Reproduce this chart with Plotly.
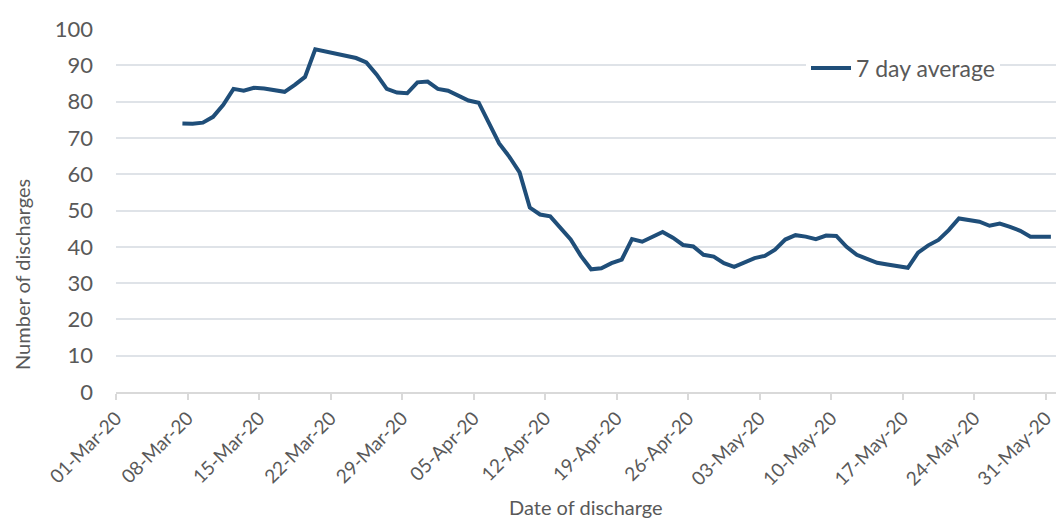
import pandas as pd
import plotly.graph_objects as go

# 7-day rolling average of discharges, one value per day from 07-Mar-20 to 31-May-20
start_date = "2020-03-07"
avg_7day = [
    74.0, 73.9, 74.2, 75.8, 79.1, 83.5, 83.0, 83.8, 83.6, 83.2,   # 07-16 Mar
    82.7, 84.6, 86.8, 94.4, 93.8, 93.0, 92.6, 92.0, 90.8, 87.5,   # 17-26 Mar
    83.5, 82.5, 82.3, 85.3, 85.5, 83.5, 83.0, 81.5, 80.3, 79.7,   # 27 Mar-05 Apr
    74.0, 68.5, 64.8, 60.5, 50.8, 48.9, 48.4, 45.0, 42.0, 37.5,   # 06-15 Apr
    33.8, 34.1, 35.5, 36.5, 42.1, 41.4, 42.8, 44.1, 42.5, 40.5,   # 16-25 Apr
    40.1, 37.8, 37.3, 35.5, 34.5, 35.6, 36.9, 37.5, 39.2, 42.0,   # 26 Apr-05 May
    43.2, 42.8, 42.1, 43.1, 43.0, 40.0, 37.8, 36.7, 35.6, 35.1,   # 06-15 May
    34.7, 34.2, 38.4, 40.4, 41.9, 44.6, 47.8, 47.3, 46.9, 45.8,   # 16-25 May
    46.4, 45.5, 44.4, 42.8, 42.8, 42.8,                           # 26-31 May
]
series_name = "7 day average"
x_title = "Date of discharge"
y_title = "Number of discharges"

# each daily value sits in the middle of its day slot on the date axis
dates = pd.date_range(start_date, periods=len(avg_7day), freq="D") + pd.Timedelta(hours=12)

LINE = "#1f4e79"
TEXT = "#595959"
GRID = "#dfe3e8"
FONT = "Lato"

fig = go.Figure()
fig.add_trace(go.Scatter(
    x=dates, y=avg_7day, mode="lines", name=series_name,
    line=dict(color=LINE, width=4),
))

fig.update_layout(
    width=1056, height=520,
    margin=dict(l=116, r=0, t=29, b=128),
    paper_bgcolor="white", plot_bgcolor="white",
    font=dict(family=FONT, color=TEXT, size=20),
    showlegend=True,
    legend=dict(
        x=(806 - 116) / 940, y=(392 - 68) / 363, xanchor="left", yanchor="middle",
        bgcolor="white", font=dict(size=23, color=TEXT, family=FONT),
        itemwidth=40,
    ),
    xaxis=dict(
        type="date",
        range=["2020-03-01", "2020-06-01"],
        tick0="2020-03-01", dtick=7 * 86400000,
        tickformat="%d-%b-%y", tickangle=-45,
        tickfont=dict(size=19, color=TEXT, family=FONT),
        showgrid=False, zeroline=False,
        showline=True, linecolor="#d9d9d9", linewidth=1.5,
        ticks="outside", ticklen=6, tickcolor="#d9d9d9", tickwidth=1.5,
    ),
    yaxis=dict(
        range=[0, 100], dtick=10,
        tickfont=dict(size=22, color=TEXT, family=FONT),
        showgrid=True, gridcolor=GRID, gridwidth=1.5,
        zeroline=False, showline=False,
        ticks="", ticklabelstandoff=22,
    ),
    annotations=[
        dict(text=x_title, xref="paper", yref="paper",
             x=0.5, y=(392 - 507) / 363, xanchor="center", yanchor="middle",
             showarrow=False, font=dict(size=20, color=TEXT, family=FONT)),
        dict(text=y_title, xref="paper", yref="paper",
             x=(22 - 116) / 940, y=(392 - 275) / 363, xanchor="center", yanchor="middle",
             textangle=-90, showarrow=False,
             font=dict(size=20, color=TEXT, family=FONT)),
    ],
)

fig.write_html("out.html")
